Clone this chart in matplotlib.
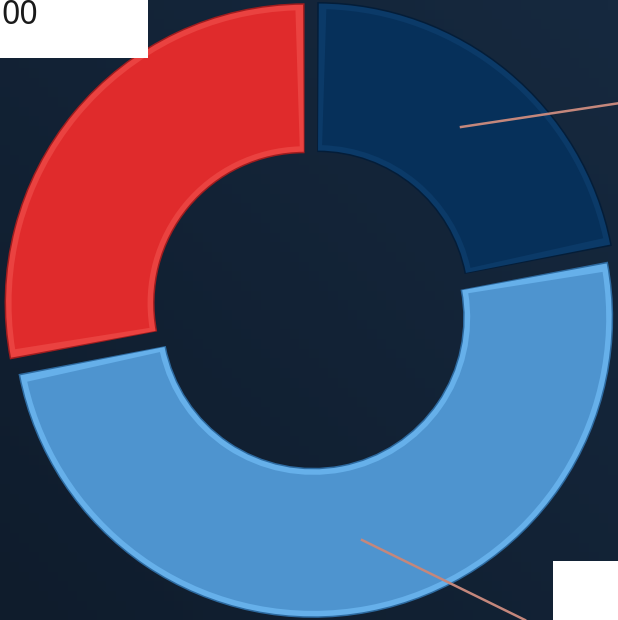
import numpy as np
import matplotlib.pyplot as plt
from matplotlib.colors import LinearSegmentedColormap
from matplotlib.patches import Wedge, Rectangle

# Data
labels = ["Segment A", "Segment B", "Segment C"]
values = [22.0, 50.0, 28.0]
colors = ["#06305a", "#4e94cf", "#e02b2c"]
rim_colors = ["#0b3a68", "#66b0ea", "#ea4240"]
shade_colors = ["#041d38", "#2d6aa0", "#a01c1e"]
box_text = "00"

W, H = 618, 620
BG = "#11223a"

fig = plt.figure(figsize=(W / 100, H / 100), dpi=100)
ax = fig.add_axes([0, 0, 1, 1])
ax.axis("off")

# background gradient (slightly lighter top-right)
gx = np.linspace(0, 1, 64)
GX, GY = np.meshgrid(gx, gx)
bg_cmap = LinearSegmentedColormap.from_list("bg", ["#0f1c2c", "#16293f"])
ax.imshow(GX * 0.5 + GY * 0.5, extent=(0, W, 0, H), origin="lower",
          cmap=bg_cmap, zorder=0, aspect="auto")

cx, cy = 311.5, 620 - 309
R = 300
width = 150

# explode is in data units (pixels here)
wedges, _ = ax.pie(values, colors=shade_colors, startangle=90, counterclock=False,
                   explode=[9] * 3, radius=R, center=(cx, cy), frame=True,
                   wedgeprops=dict(width=width, linewidth=0))
ax.set_xlim(0, W)
ax.set_ylim(0, H)
ax.set_aspect("auto")

# bevel effect: rim + inset face
for w, c, rc in zip(wedges, colors, rim_colors):
    w.set_zorder(2)
    t1, t2 = w.theta1, w.theta2
    wc = w.center
    r_out = w.r
    rim = Wedge(wc, r_out - 1.5, t1 + 0.3, t2 - 0.3, width=width - 3,
                facecolor=rc, linewidth=0, zorder=3)
    ax.add_patch(rim)
    inset = 7
    r_mid = r_out - width / 2
    dt = np.degrees(inset / r_mid)
    face = Wedge(wc, r_out - inset, t1 + dt, t2 - dt, width=width - 2 * inset,
                 facecolor=c, linewidth=0, zorder=4)
    ax.add_patch(face)

# leader lines
lead = "#c4877c"
ax.plot([461, 640], [620 - 127, 620 - 100], color=lead, lw=1.8, zorder=6, clip_on=False)
ax.plot([362, 525], [620 - 540, 620 - 620], color=lead, lw=1.8, zorder=6, clip_on=False)

# label boxes (cropped at the figure edge)
ax.add_patch(Rectangle((-10, 620 - 58), 158, 70, facecolor="white", edgecolor="none", zorder=7))
ax.text(1, 620 - 16, box_text, ha="left", va="center", fontsize=23,
        family="Noto Sans", color="#1a1a1a", zorder=8)
ax.add_patch(Rectangle((553, -10), 80, 620 - 561 + 10, facecolor="white", edgecolor="none", zorder=7))

fig.patch.set_facecolor(BG)
fig.savefig("out.png", dpi=100, facecolor=BG)
